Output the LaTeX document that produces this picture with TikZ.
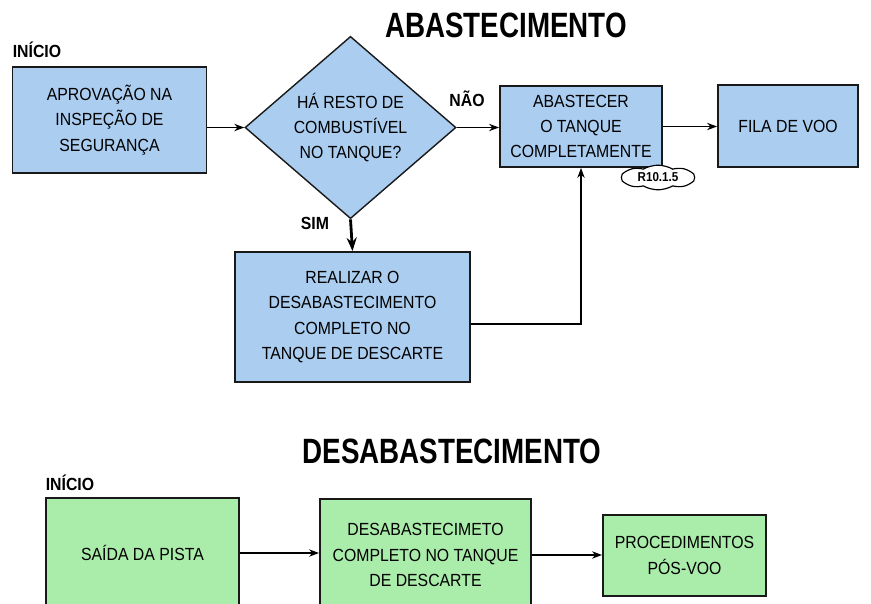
\documentclass[tikz,border=0pt]{standalone}
\usepackage{fontspec}
\setmainfont[FakeStretch=0.9]{Liberation Sans}
\newfontfamily\titlefont[FakeStretch=0.79]{Liberation Sans}
\usepackage{xcolor}
\usetikzlibrary{arrows.meta,positioning,shapes.geometric,shapes.symbols}
\definecolor{boxblue}{RGB}{170,205,240}
\definecolor{boxgreen}{RGB}{170,236,170}
\definecolor{edgegray}{RGB}{25,25,25}

\begin{document}
\begin{tikzpicture}[
  x=0.03cm, y=-0.03cm,
  every node/.style={font=\fontsize{15}{21.5}\selectfont},
  block/.style={rectangle, draw=edgegray, line width=1.6pt, align=center,
                inner sep=2pt},
  ablock/.style={block, fill=boxblue},
  dblock/.style={block, fill=boxgreen},
  decision/.style={diamond, draw=edgegray, line width=1.2pt, fill=boxblue,
                align=center, inner sep=0pt},
  tag/.style={cloud, cloud puffs=8, cloud puff arc=60, cloud ignores aspect,
                draw, line width=1pt, fill=white, inner sep=0pt,
                font=\bfseries\fontsize{11}{13}\selectfont},
  heading/.style={font=\titlefont\bfseries\fontsize{30}{34}\selectfont},
  lbl/.style={font=\bfseries\fontsize{15}{18}\selectfont},
  arr/.style={-{Stealth[length=3mm,width=2.2mm]}, line width=1.2pt},
]
\useasboundingbox (0,0) rectangle (871,603);
\clip (0,0) rectangle (871,603);

% abastecimento
\node[heading] (tit1) at (506,25) {ABASTECIMENTO};
\node[lbl]     (ini1) at (37,50)  {INÍCIO};
\node[ablock, minimum width=5.82cm, minimum height=3.18cm]
               (aprov) at (109.5,120) {APROVAÇÃO NA\\INSPEÇÃO DE\\SEGURANÇA};
\node[decision, minimum width=6.33cm, minimum height=4.77cm]
               (resto) at (350.5,127.5) {HÁ RESTO DE\\COMBUSTÍVEL\\NO TANQUE?};
\node[ablock, minimum width=4.86cm, minimum height=2.43cm]
               (abast) at (581,126.5) {ABASTECER\\O TANQUE\\COMPLETAMENTE};
\node[ablock, minimum width=4.2cm, minimum height=2.46cm]
               (fila) at (788,126) {FILA DE VOO};
\node[tag, minimum width=2.2cm, minimum height=0.74cm]
               (ref) at (658,177.5) {R10.1.5};
\node[ablock, minimum width=7.05cm, minimum height=3.9cm]
               (desab) at (352.5,317) {REALIZAR O\\DESABASTECIMENTO\\COMPLETO NO\\TANQUE DE DESCARTE};
\node[lbl]     (nao) at (467,99)  {NÃO};
\node[lbl]     (sim) at (315,223) {SIM};

\draw[arr] (aprov.east |- resto.west) -- (resto.west);
\draw[arr] (resto.east) -- (resto.east -| abast.west);
\draw[arr] (abast.east) -- (abast.east -| fila.west);
\draw[-{Stealth[length=4mm,width=3mm]}, line width=2.4pt] (resto.south) -- (desab.north);
\draw[arr, line width=0.9pt] ([yshift=-0.21cm]desab.east) -| (abast.south);

% desabastecimento
\node[heading] (tit2) at (452,451) {DESABASTECIMENTO};
\node[lbl]     (ini2) at (70,483)  {INÍCIO};
\node[dblock, minimum width=5.79cm, minimum height=3.3cm]
               (saida) at (142.5,553) {SAÍDA DA PISTA};
\node[dblock, minimum width=6.33cm, minimum height=3.36cm]
               (descarte) at (425.5,555) {DESABASTECIMETO\\COMPLETO NO TANQUE\\DE DESCARTE};
\node[dblock, minimum width=4.89cm, minimum height=2.43cm]
               (posvoo) at (684.5,555.5) {PROCEDIMENTOS\\PÓS-VOO};

\draw[arr] (saida.east) -- (saida.east -| descarte.west);
\draw[arr] (descarte.east) -- (descarte.east -| posvoo.west);
\end{tikzpicture}
\end{document}
